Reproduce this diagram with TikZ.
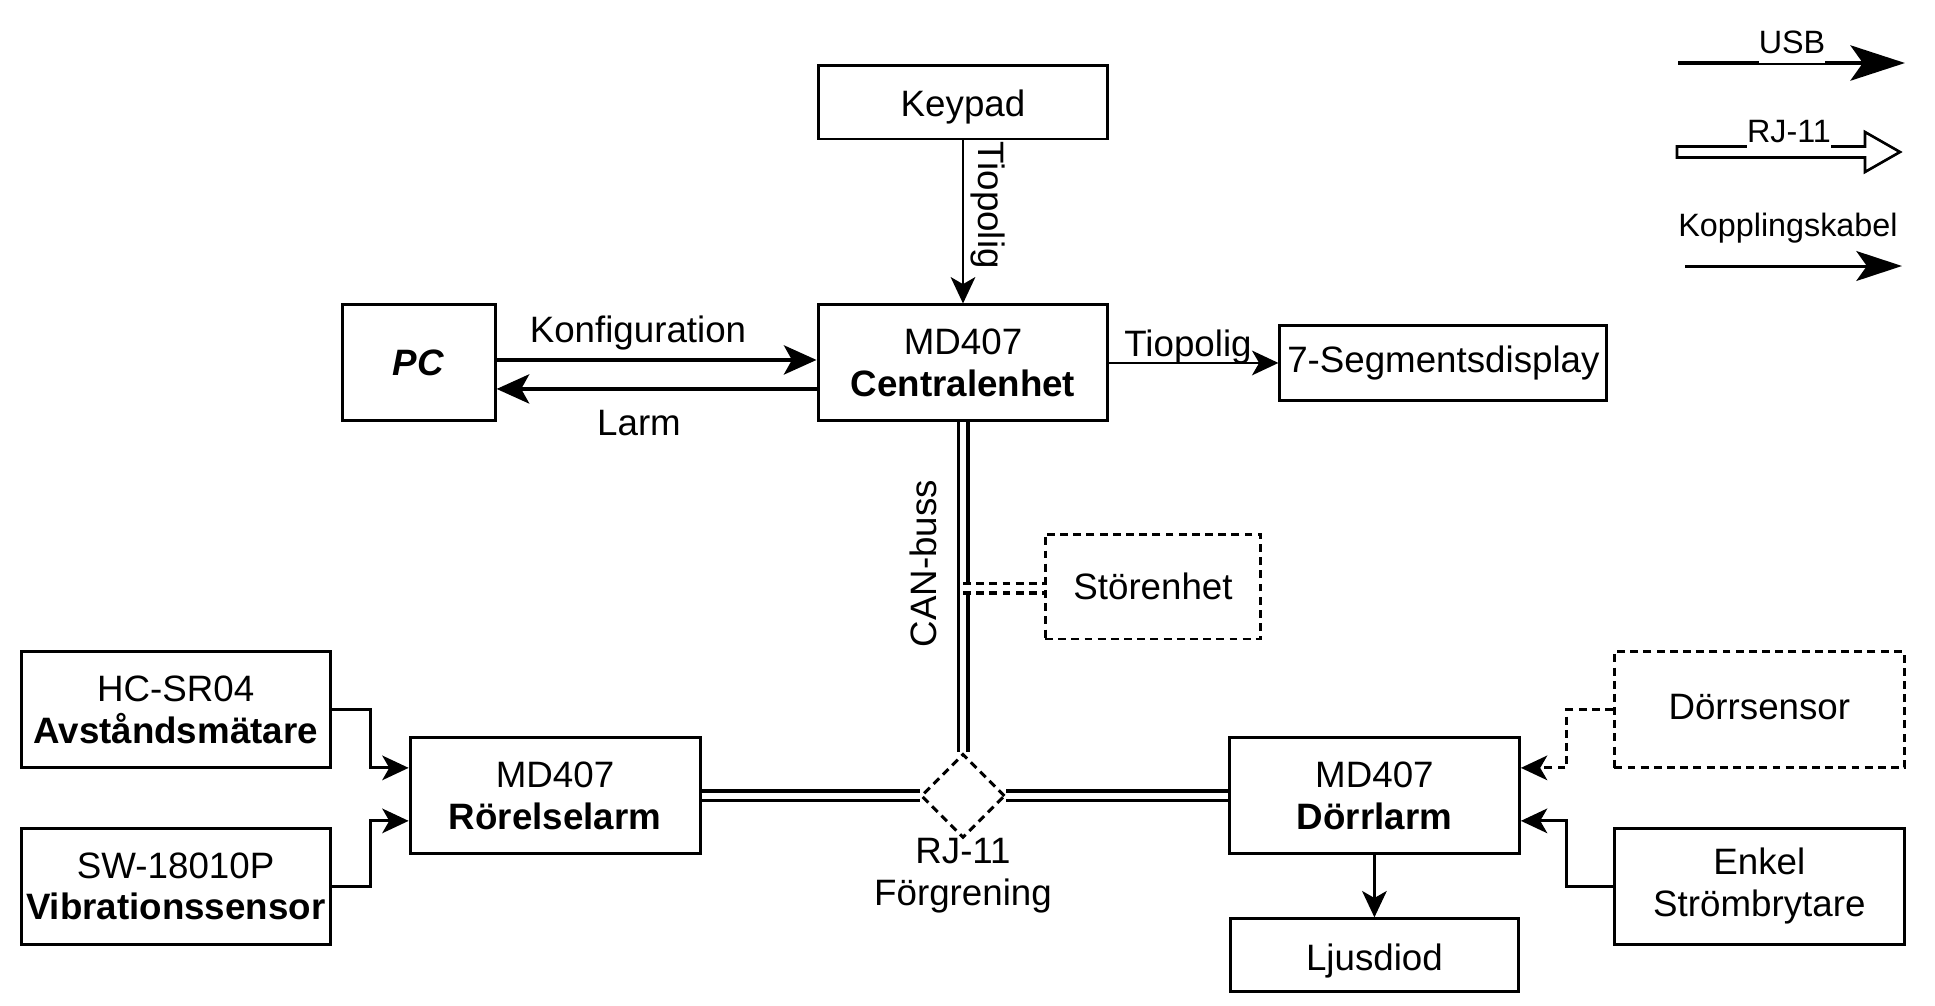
\documentclass[tikz,border=0pt]{standalone}
\usepackage{fontspec}
\setmainfont{Liberation Sans}
\usepackage{tikz}
\usetikzlibrary{shapes.geometric, arrows.meta}
\tikzstyle{box} = [rectangle, minimum width=5.8cm, minimum height=2.32cm, text centered, align=center, inner sep=0pt, draw=black, line width=1.7pt]
\tikzstyle{optbox} = [box, dash pattern=on 4.5pt off 3pt]
\tikzstyle{junction} = [diamond, minimum width=1.68cm, minimum height=1.68cm, inner sep=0pt, draw=black, line width=1.7pt, dash pattern=on 4.5pt off 3pt]
\tikzstyle{arrow} = [line width=1.6pt, -{Stealth[length=15pt, width=14pt, inset=4pt]}]
\tikzstyle{usb} = [line width=2.7pt, -{Stealth[length=18.5pt, width=16.5pt, inset=4.5pt]}]
\tikzstyle{rjlink} = [double, line width=2pt, double distance=3.4pt]
\tikzstyle{usblegend} = [line width=2.7pt, -{Stealth[length=31pt, width=20pt, inset=7pt]}]
\tikzstyle{kabellegend} = [line width=1.7pt, -{Stealth[length=26pt, width=17pt, inset=6pt]}]
\tikzstyle{legendtext} = [font=\fontsize{18.4}{21}\selectfont]
\begin{document}
\begin{tikzpicture}[node distance=2cm, x=0.02cm, y=-0.02cm, font=\fontsize{20.9}{23.9}\selectfont]
\useasboundingbox (0,0) rectangle (1935,1005);

\node (kp) [box, minimum height=1.48cm, text height=21pt, text depth=4.4pt] at (963,102) {Keypad};
\node (ce) [box, below of=kp, yshift=-3.22cm] {MD407\\\textbf{Centralenhet}};
\node (pc) [box, minimum width=3.06cm, left of=ce, xshift=-8.89cm] {\textbf{\textit{PC}}};
\node (seg) [box, minimum width=6.54cm, minimum height=1.5cm, right of=ce, xshift=7.61cm] {7-Segmentsdisplay};
\node (rj) [junction, below of=ce, yshift=-6.66cm] {};
\node (stor) [optbox, minimum width=4.32cm, minimum height=2.1cm] at (1153,586.5) {Störenhet};
\node (rl) [box, left of=rj, xshift=-6.16cm] {MD407\\\textbf{Rörelselarm}};
\node (dl) [box, right of=rj, xshift=6.23cm] {MD407\\\textbf{Dörrlarm}};
\node (hc) [box, minimum width=6.18cm, left of=rl, xshift=-5.59cm, yshift=1.72cm] {HC-SR04\\\textbf{Avståndsmätare}};
\node (sw) [box, minimum width=6.18cm, below of=hc, yshift=-1.53cm] {SW-18010P\\\textbf{Vibrationssensor}};
\node (ds) [optbox, right of=dl, xshift=5.7cm, yshift=1.72cm] {\raisebox{4pt}{Dörrsensor}};
\node (ek) [box, below of=ds, yshift=-1.53cm] {Enkel\\Strömbrytare};
\node (lj) [box, minimum width=5.76cm, minimum height=1.46cm, text height=22pt, text depth=4.4pt, below of=dl, yshift=-1.19cm] {Ljusdiod};

% labels
\node (konf) at (638,333) {Konfiguration};
\node (larm) at (639,423) {Larm};
\node (tio1) [anchor=base, rotate=-90] at (978,205) {Tiopolig};
\node (tio2) [anchor=base] at (1188,356) {Tiopolig};
\node (can) [anchor=base, rotate=90] at (936,563.5) {CAN-buss};
\node (rjtxt) [below of=rj, yshift=0.4cm, align=center] {RJ-11\\Förgrening};

\draw [arrow] (kp) -- (ce);
\draw [usb] ([yshift=0.06cm]pc.east) -- ([yshift=0.06cm]ce.west);
\draw [usb] ([yshift=-0.52cm]ce.west) -- ([yshift=-0.52cm]pc.east);
\draw [arrow] (ce) -- (seg);
\draw [rjlink] (ce) -- (rj);
\draw [rjlink] (rl) -- (rj);
\draw [rjlink] (rj) -- (dl);
\coordinate (tap) at (963,588);
\draw [rjlink, dash pattern=on 4.5pt off 3pt] (tap) -- (tap -| stor.west);
\draw [arrow] (hc.east) -- ++(39,0) |- ([yshift=0.56cm]rl.west);
\draw [arrow] (sw.east) -- ++(39,0) |- ([yshift=-0.5cm]rl.west);
\draw [arrow, dash pattern=on 4.5pt off 3pt] (ds.west) -- ++(-46,0) |- ([yshift=0.56cm]dl.east);
\draw [arrow] (ek.west) -- ++(-46,0) |- ([yshift=-0.5cm]dl.east);
\draw [arrow] (dl) -- (lj);

% legend
\coordinate (usbA) at (1678,63);
\coordinate (usbB) at (1905,63);
\draw [usblegend] (usbA) -- (usbB);
\node (usbtxt) [legendtext, anchor=base, fill=white, inner xsep=0pt, inner ysep=5.5pt] at (1792,53) {USB};
\coordinate (rjA) at (1677,152);
\draw [line width=1.5pt] (rjA) ++(0,-5.5) -- ++(188,0) -- ++(0,-14.5) -- ++(35,20) -- ++(-35,20) -- ++(0,-14.5) -- ++(-188,0) -- cycle;
\node (rjleg) [legendtext, anchor=base, fill=white, inner xsep=0pt, inner ysep=3pt] at (1789,142) {RJ-11};
\coordinate (kabA) at (1685,266);
\coordinate (kabB) at (1902,266);
\draw [kabellegend] (kabA) -- (kabB);
\node (kabtxt) [legendtext] at (1788,228) {Kopplingskabel};
\end{tikzpicture}
\end{document}
